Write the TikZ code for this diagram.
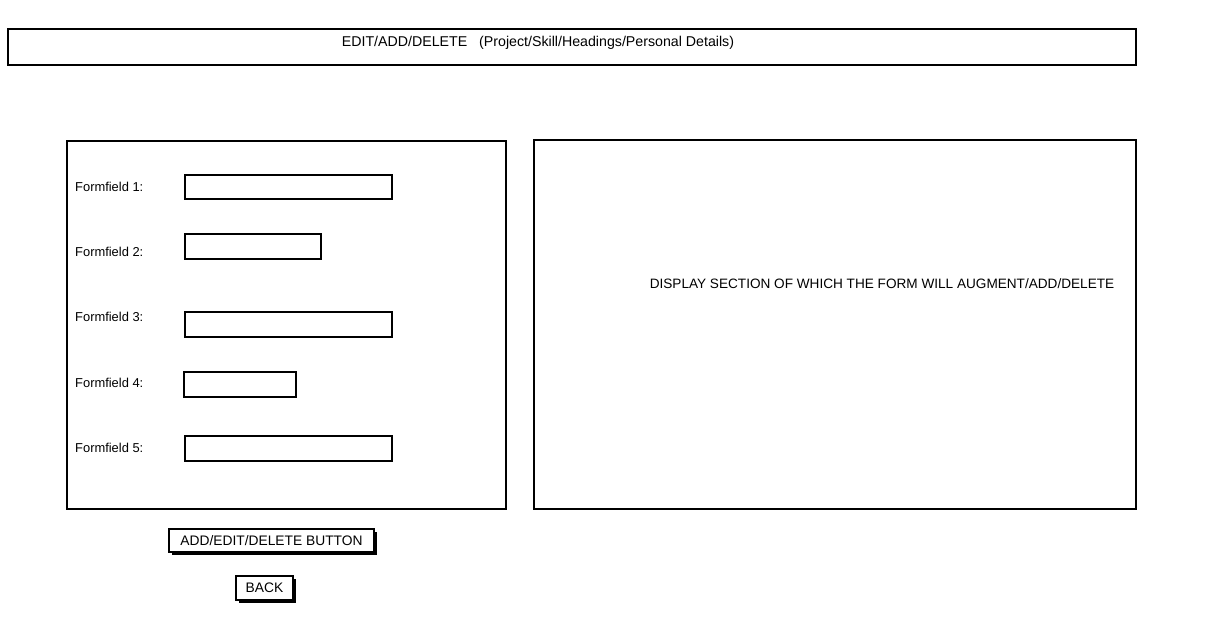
\documentclass[tikz,border=0pt]{standalone}
\usepackage{fontspec}
\setmainfont{Liberation Sans}
\begin{document}
\begin{tikzpicture}[x=1pt,y=-1pt,
  frame/.style={draw=black,line width=1.6pt,fill=white},
  field/.style={draw=black,line width=1.6pt,fill=white},
  lbl/.style={anchor=west,inner sep=0pt,font=\fontsize{12.9}{14}\selectfont},
  txt/.style={inner sep=0pt},
  btn/.style={draw=black,line width=1.4pt,fill=white,inner sep=0pt,font=\fontsize{13.8}{15}\selectfont}]
\useasboundingbox (0,0) rectangle (1216,628);
\fill[white] (0,0) rectangle (1216,628);

% header bar
\draw[frame] (8,29) rectangle (1136,65);
\node[txt,font=\fontsize{14.2}{16}\selectfont] (title) at (538,42.5) {EDIT/ADD/DELETE \ \ (Project/Skill/Headings/Personal Details)};

% form panel
\draw[frame] (67,141) rectangle (506,509);
\node[lbl] (l1) at (75,187) {Formfield 1:};
\node[lbl] (l2) at (75,252) {Formfield 2:};
\node[lbl] (l3) at (75,317) {Formfield 3:};
\node[lbl] (l4) at (75,383) {Formfield 4:};
\node[lbl] (l5) at (75,448) {Formfield 5:};
\draw[field] (185,175) rectangle (392,199);
\draw[field] (185,234) rectangle (321,259);
\draw[field] (185,312) rectangle (392,337);
\draw[field] (184,372) rectangle (296,397);
\draw[field] (185,436) rectangle (392,461);

% display panel
\draw[frame] (534,140) rectangle (1136,509);
\node[txt,font=\fontsize{13.6}{15}\selectfont] (disp) at (882,284) {DISPLAY SECTION OF WHICH THE FORM WILL AUGMENT/ADD/DELETE};

% buttons with drop shadows
\fill[black] (172,532) rectangle (377,555);
\node[btn,minimum width=205pt,minimum height=23pt] (action) at (271.5,540.5) {ADD/EDIT/DELETE BUTTON};
\fill[black] (239,579) rectangle (296,603);
\node[btn,minimum width=57pt,minimum height=24pt] (back) at (264.5,588) {BACK};
\end{tikzpicture}
\end{document}
